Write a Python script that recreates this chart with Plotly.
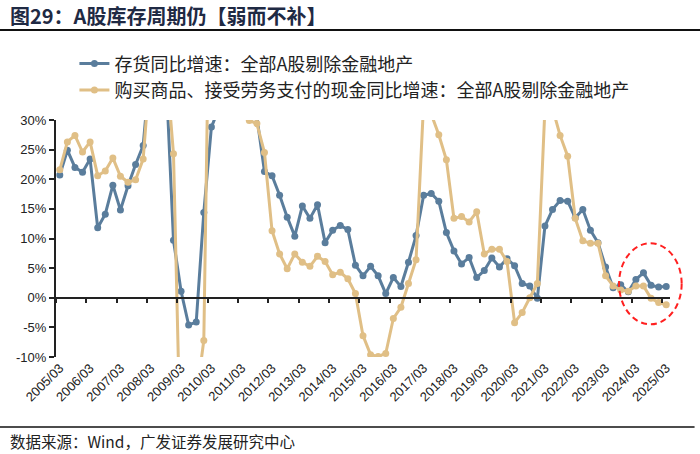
import plotly.graph_objects as go

# ---- data ----
categories = [f"{y}/{m:02d}" for y in range(2005, 2026) for m in (3, 6, 9, 12)][:81]

inventory_yoy = [
    20.7, 24.9, 22.0, 21.2, 23.4, 11.8, 14.1, 19.0, 14.8, 18.9, 22.5, 25.7,
    40.0, 45.0, 38.0, 9.7, 1.1, -4.6, -4.1, 14.4, 28.8, 32.0, 34.0, 35.0,
    34.0, 32.0, 30.5, 21.3, 20.6, 17.3, 13.6, 10.4, 15.5, 13.4, 15.7, 9.3,
    11.4, 12.2, 11.5, 5.5, 3.7, 5.3, 3.7, 0.7, 3.4, 1.9, 6.0, 10.5,
    17.3, 17.6, 16.3, 11.0, 7.9, 5.7, 6.8, 3.4, 4.6, 6.7, 5.2, 6.6,
    5.4, 2.4, 2.0, -0.1, 12.1, 14.9, 16.4, 16.3, 13.5, 14.9, 11.4, 9.3,
    5.2, 1.7, 2.2, 1.0, 3.1, 4.2, 2.1, 1.8, 1.9,
]

cash_paid_yoy = [
    21.6, 26.3, 27.4, 24.6, 26.3, 20.6, 21.4, 23.6, 20.5, 19.5, 19.9, 23.4,
    40.0, 48.0, 40.0, 24.3, -30.0, -32.0, -17.0, -7.2, 77.0, 65.0, 50.0, 38.0,
    31.0, 29.9, 29.4, 24.5, 11.3, 7.4, 4.9, 7.4, 6.0, 5.3, 7.0, 6.1,
    3.9, 4.3, 3.2, 0.7, -6.4, -9.6, -9.9, -9.4, -3.5, -1.6, 2.4, 6.4,
    33.0, 31.0, 27.5, 23.3, 13.4, 13.7, 12.8, 14.5, 7.4, 8.2, 8.2, 6.1,
    -4.2, -2.5, 0.0, 2.4, 32.0, 32.0, 27.4, 23.9, 13.4, 9.6, 9.2, 9.2,
    3.7, 2.0, 1.3, 1.1, 2.0, 2.0, -0.1, -0.8, -1.2,
]

series_names = [
    "存货同比增速：全部A股剔除金融地产",
    "购买商品、接受劳务支付的现金同比增速：全部A股剔除金融地产",
]
y_ticks = [-10, -5, 0, 5, 10, 15, 20, 25, 30]

title_text = "图29：A股库存周期仍【弱而不补】"
source_text = "数据来源：Wind，广发证券发展研究中心"

# ---- derived ----
idx = list(range(len(categories)))
label_idx = [i for i, c in enumerate(categories) if c.endswith("/03")]
label_txt = [categories[i] for i in label_idx]
boundary_ticks = [i - 0.5 for i in label_idx]

BLUE = "#5A7D9C"
GOLD = "#E0BF86"
CJK = "Noto Sans CJK SC"
LAT = "Liberation Sans, Arial"

fig = go.Figure()
fig.add_trace(go.Scatter(
    x=idx, y=inventory_yoy, name=series_names[0], mode="lines+markers",
    line=dict(color=BLUE, width=3), marker=dict(color=BLUE, size=7),
    customdata=categories, xaxis="x", yaxis="y",
))
fig.add_trace(go.Scatter(
    x=idx, y=cash_paid_yoy, name=series_names[1], mode="lines+markers",
    line=dict(color=GOLD, width=3), marker=dict(color=GOLD, size=7),
    customdata=categories, xaxis="x2", yaxis="y",
))

xr = [-0.5, len(categories) - 0.5]
fig.update_layout(
    width=700, height=454,
    margin=dict(l=56, r=30, t=120, b=97),
    paper_bgcolor="white", plot_bgcolor="white",
    showlegend=True,
    legend=dict(
        x=0.03, y=1.315, xanchor="left", yanchor="top",
        font=dict(family=CJK, size=18, color="#222"),
        bgcolor="rgba(0,0,0,0)", tracegroupgap=0,
    ),
    xaxis=dict(
        range=xr, tickmode="array", tickvals=label_idx, ticktext=label_txt,
        tickangle=-45, ticks="", showline=False, showgrid=False, zeroline=False,
        tickfont=dict(family=LAT, size=13, color="#222"),
    ),
    xaxis2=dict(
        range=xr, overlaying="x", anchor="free", position=0.25, side="bottom",
        tickmode="array", tickvals=boundary_ticks, showticklabels=False,
        ticks="outside", ticklen=4, tickwidth=1.5, tickcolor="#222",
        showline=True, linecolor="#222", linewidth=2,
        showgrid=False, zeroline=False,
    ),
    yaxis=dict(
        range=[-10, 30], tickmode="array", tickvals=y_ticks,
        ticktext=[f"{v}%" for v in y_ticks],
        ticks="outside", ticklen=5, tickwidth=1.5, tickcolor="#222",
        showline=True, linecolor="#222", linewidth=2,
        showgrid=False, zeroline=False,
        tickfont=dict(family=LAT, size=13, color="#222"),
    ),
    shapes=[
        dict(type="line", xref="paper", yref="paper", x0=-0.0917, x1=1.049,
             y0=1.38, y1=1.38, line=dict(color="#111", width=2)),
        dict(type="line", xref="paper", yref="paper", x0=-0.0917, x1=1.04,
             y0=-0.2954, y1=-0.2954, line=dict(color="#111", width=1.5)),
        dict(type="circle", xref="paper", yref="paper", x0=0.917, x1=1.019,
             y0=0.138, y1=0.480, line=dict(color="#FF2020", width=2, dash="6px,4px")),
    ],
    annotations=[
        dict(text=f"<b>{title_text}</b>", xref="paper", yref="paper",
             x=-0.078, y=1.443, xanchor="left", yanchor="middle", showarrow=False,
             font=dict(family=CJK, size=20, color="#1f2a44")),
        dict(text=source_text, xref="paper", yref="paper",
             x=-0.078, y=-0.356, xanchor="left", yanchor="middle", showarrow=False,
             font=dict(family=CJK, size=15.5, color="#222")),
    ],
)

fig.write_html(
    "out.html",
    config={"displayModeBar": False},
    post_script="document.body.style.margin='0';document.body.style.padding='0';",
)
